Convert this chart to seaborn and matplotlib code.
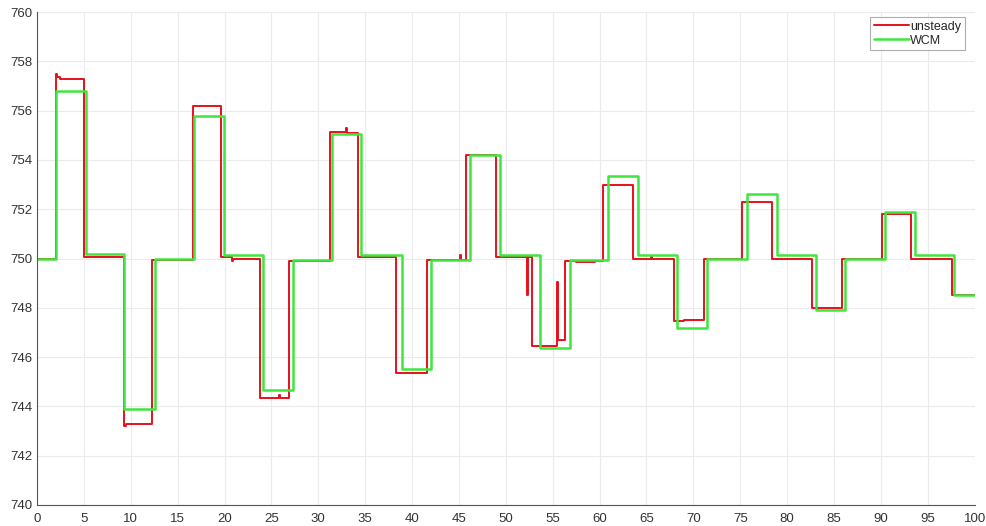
import numpy as np
import pandas as pd
import matplotlib
matplotlib.use('Agg')
import matplotlib.pyplot as plt
import seaborn as sns

# unsteady (red) step series: change times and levels (steps-post)
unsteady_t = [0, 2.0, 2.15, 2.5, 5.0, 9.3, 9.45, 12.3, 16.6, 19.6, 20.8, 20.9,
              23.8, 25.8, 25.9, 26.9, 31.2, 33.0, 33.1, 34.2, 38.3, 41.6, 45.1,
              45.2, 45.8, 48.9, 52.3, 52.4, 52.8, 55.5, 55.6, 56.3, 57.5, 59.5,
              60.4, 63.6, 65.5, 65.6, 67.9, 69.0, 71.1, 75.2, 78.4, 82.7, 85.9,
              90.1, 93.2, 97.6, 100]
unsteady_y = [750.0, 757.5, 757.35, 757.3, 750.05, 743.2, 743.3, 749.95, 756.2,
              750.05, 749.9, 750.0, 744.35, 744.45, 744.35, 749.9, 755.15, 755.3,
              755.1, 750.05, 745.35, 749.95, 750.15, 749.95, 754.2, 750.05, 748.5,
              750.05, 746.45, 749.05, 746.7, 749.9, 749.85, 749.9, 753.0, 750.0,
              750.05, 750.0, 747.45, 747.5, 750.0, 752.3, 750.0, 748.0, 750.0,
              751.8, 750.0, 748.5, 748.5]

# WCM (green) step series
wcm_t = [0, 2.05, 5.2, 9.3, 12.55, 16.7, 19.9, 24.1, 27.3, 31.5, 34.6, 38.9,
         42.0, 46.2, 49.4, 53.6, 56.8, 60.9, 64.1, 68.3, 71.5, 75.7, 78.9,
         83.1, 86.2, 90.4, 93.6, 97.8, 100]
wcm_y = [750.0, 756.8, 750.2, 743.9, 750.0, 755.8, 750.15, 744.65, 749.95,
         755.05, 750.15, 745.5, 749.95, 754.2, 750.15, 746.35, 749.95, 753.35,
         750.15, 747.2, 750.0, 752.6, 750.15, 747.9, 750.0, 751.9, 750.15,
         748.5, 748.5]

x_ticks = list(range(0, 101, 5))
y_ticks = list(range(740, 761, 2))

sns.set_style('white')
plt.rcParams['font.family'] = ['Liberation Sans', 'DejaVu Sans']

df_red = pd.DataFrame({'t': unsteady_t, 'v': unsteady_y})
df_green = pd.DataFrame({'t': wcm_t, 'v': wcm_y})

fig = plt.figure(figsize=(9.86, 5.26), dpi=100)
ax = fig.add_axes([0.0375, 0.04, 0.951, 0.937])

sns.lineplot(data=df_red, x='t', y='v', ax=ax, color='#e8101c', linewidth=1.4,
             drawstyle='steps-post', estimator=None, sort=False, label='unsteady')
sns.lineplot(data=df_green, x='t', y='v', ax=ax, color='#3ee63e', linewidth=1.8,
             drawstyle='steps-post', estimator=None, sort=False, label='WCM')

ax.set_xlim(0, 100)
ax.set_ylim(740, 760)
ax.set_xticks(x_ticks)
ax.set_yticks(y_ticks)
ax.set_xlabel('')
ax.set_ylabel('')
ax.grid(True, color='#ebebeb', linewidth=0.8)
ax.set_axisbelow(True)
for s in ['top', 'right']:
    ax.spines[s].set_visible(False)
for s in ['left', 'bottom']:
    ax.spines[s].set_color('#555555')
    ax.spines[s].set_linewidth(0.8)
ax.tick_params(direction='in', length=4, width=0.6, colors='#444444', labelsize=9.5,
               labelcolor='#333333')
ax.tick_params(axis='x', pad=6)

leg = ax.legend(loc='upper right', fontsize=9, frameon=True, fancybox=False,
                handlelength=2.8, handletextpad=0.1, borderpad=0.3, labelspacing=0.15,
                borderaxespad=0.4, bbox_to_anchor=(0.995, 1.0))
leg.get_frame().set_edgecolor('#999999')
leg.get_frame().set_linewidth(0.8)

fig.savefig('out.png', dpi=100)
